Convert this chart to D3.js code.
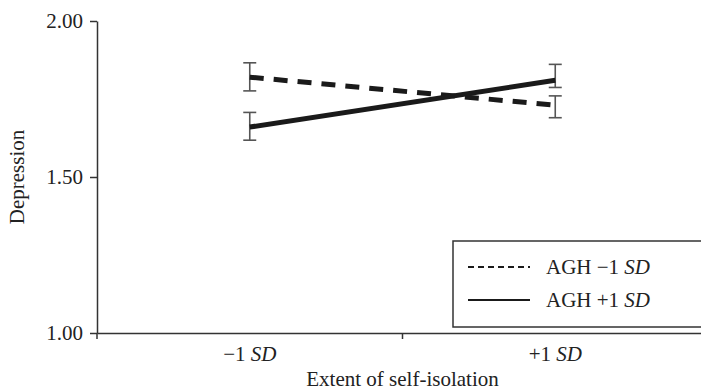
<!DOCTYPE html>
<html>
<head>
<meta charset="utf-8">
<script src="https://cdn.jsdelivr.net/npm/d3@7"></script>
<style>
  body { margin: 0; background: #fff; }
  #chart { width: 701px; height: 392px; }
  text { font-family: "Liberation Serif", "Times New Roman", serif; fill: #222; }
</style>
</head>
<body>
<div id="chart"></div>
<script>
// data
const categories = ["\u22121", "+1"];
const seriesNames = ["AGH \u22121", "AGH +1"];
const lowAGH = [1.82, 1.73];      // dashed
const highAGH = [1.66, 1.81];     // solid
const lowAGHUpper = [1.866, 1.760];
const lowAGHLower = [1.776, 1.690];
const highAGHUpper = [1.707, 1.861];
const highAGHLower = [1.618, 1.787];
const yTicks = [1.00, 1.50, 2.00];

const width = 701;
const height = 392;
const margin = {top: 21, right: -7, bottom: 59, left: 97};

const svg = d3.select("#chart")
    .append("svg")
    .attr("width", width)
    .attr("height", height);

const x = d3.scaleBand()
    .domain(categories)
    .range([margin.left, width - margin.right]);

const y = d3.scaleLinear()
    .domain([1, 2])
    .range([height - margin.bottom, margin.top]);

const axisColor = "#333";

// y axis
const yAxis = svg.append("g")
    .attr("transform", "translate(" + margin.left + ",0)")
    .call(d3.axisLeft(y).tickValues(yTicks).tickFormat(d3.format(".2f")).tickSize(7).tickSizeOuter(0).tickPadding(7));
yAxis.select(".domain").attr("stroke", axisColor).attr("stroke-width", 1.5);
yAxis.selectAll(".tick line").attr("stroke", axisColor).attr("stroke-width", 1.5);
yAxis.selectAll(".tick text")
    .attr("font-family", "Liberation Serif, serif")
    .attr("font-size", 21)
    .attr("fill", "#222")
    .attr("dy", "0.33em");

// x axis: labels centred in bands, ticks on band boundaries
const xAxis = svg.append("g")
    .attr("transform", "translate(0," + y(1) + ")")
    .call(d3.axisBottom(x).tickSize(0).tickSizeOuter(0).tickPadding(8)
        .tickFormat(() => ""));
xAxis.select(".domain").attr("stroke", axisColor).attr("stroke-width", 1.5);

const xLabels = xAxis.selectAll(".tick text")
    .attr("font-family", "Liberation Serif, serif")
    .attr("font-size", 21)
    .attr("fill", "#222")
    .attr("dy", "0.95em");
xLabels.append("tspan").text(d => d + " ");
xLabels.append("tspan").attr("font-style", "italic").text("SD");

const boundaries = [x.range()[0]].concat(categories.map(c => x(c) + x.bandwidth()));
xAxis.selectAll(".bound")
    .data(boundaries)
    .enter()
    .append("line")
    .attr("class", "bound")
    .attr("x1", d => d).attr("x2", d => d)
    .attr("y1", 0).attr("y2", 6)
    .attr("stroke", axisColor)
    .attr("stroke-width", 1.5);

// axis titles
svg.append("text")
    .attr("transform", "translate(24," + y(1.5) + ") rotate(-90)")
    .attr("text-anchor", "middle")
    .attr("font-size", 21)
    .text("Depression");

svg.append("text")
    .attr("x", x.range()[0] + x.bandwidth())
    .attr("y", 386)
    .attr("text-anchor", "middle")
    .attr("font-size", 21)
    .text("Extent of self-isolation");

// plot
const plot = svg.append("g").attr("id", "plot");

const series = [
    {name: seriesNames[0], values: lowAGH, upper: lowAGHUpper, lower: lowAGHLower, dash: "14,10"},
    {name: seriesNames[1], values: highAGH, upper: highAGHUpper, lower: highAGHLower, dash: null}
];

const line = d3.line()
    .x((d, i) => x(categories[i]) + x.bandwidth() / 2)
    .y(d => y(d));

const cap = 6.5;
series.forEach(s => {
    const eb = plot.append("g");
    categories.forEach((c, i) => {
        const cx = x(c) + x.bandwidth() / 2;
        eb.append("line")
            .attr("x1", cx).attr("x2", cx)
            .attr("y1", y(s.upper[i])).attr("y2", y(s.lower[i]));
        eb.append("line")
            .attr("x1", cx - cap).attr("x2", cx + cap)
            .attr("y1", y(s.upper[i])).attr("y2", y(s.upper[i]));
        eb.append("line")
            .attr("x1", cx - cap).attr("x2", cx + cap)
            .attr("y1", y(s.lower[i])).attr("y2", y(s.lower[i]));
    });
    eb.attr("stroke", "#555").attr("stroke-width", 1.6);
});

series.forEach(s => {
    plot.append("path")
        .datum(s.values)
        .attr("d", line)
        .attr("fill", "none")
        .attr("stroke", "#1a1a1a")
        .attr("stroke-width", 5)
        .attr("stroke-dasharray", s.dash);
});

// legend
const legend = svg.append("g").attr("transform", "translate(453,241)");
legend.append("rect")
    .attr("width", 260)
    .attr("height", 86)
    .attr("fill", "#fff")
    .attr("stroke", axisColor)
    .attr("stroke-width", 1.5);

const items = legend.selectAll(".item")
    .data(series)
    .enter()
    .append("g")
    .attr("transform", (d, i) => "translate(0," + (26 + i * 33) + ")");

items.append("line")
    .attr("x1", 15).attr("x2", 77)
    .attr("stroke", "#1a1a1a")
    .attr("stroke-width", 2.2)
    .attr("stroke-dasharray", d => d.dash ? "6,4" : null);

const itemText = items.append("text")
    .attr("x", 93)
    .attr("dy", "0.33em")
    .attr("font-size", 21);
itemText.append("tspan").text(d => d.name + " ");
itemText.append("tspan").attr("font-style", "italic").text("SD");
</script>
</body>
</html>
